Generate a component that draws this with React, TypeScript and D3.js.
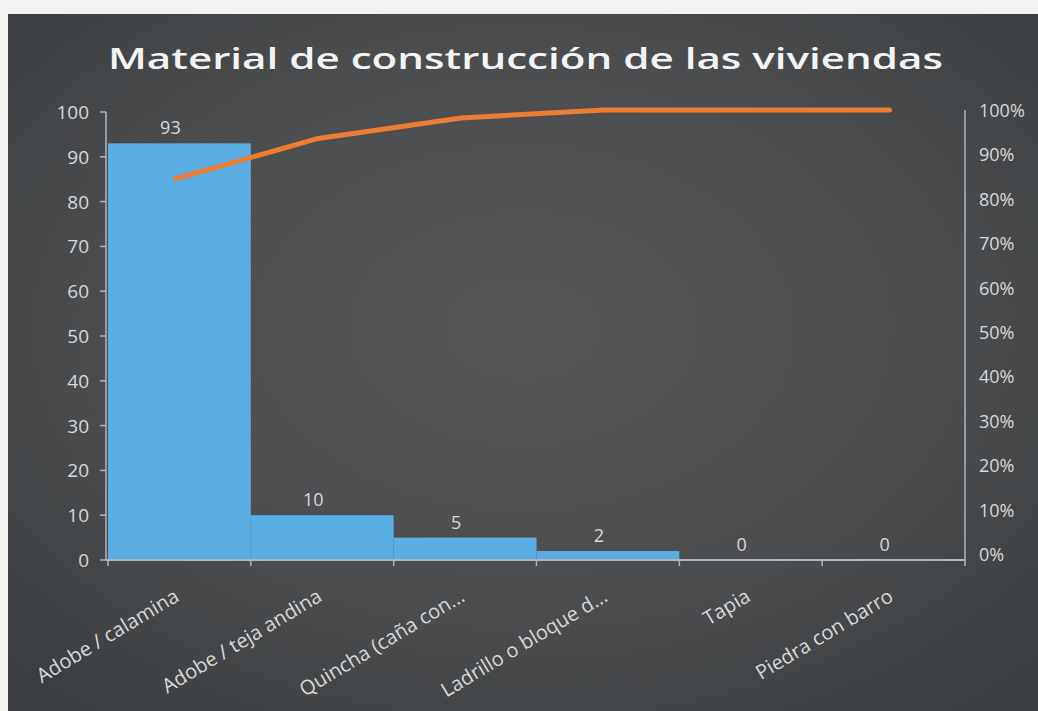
import React from "react";
import * as d3 from "d3";

const categories = [
  "Adobe / calamina",
  "Adobe / teja andina",
  "Quincha (caña con...",
  "Ladrillo o bloque d...",
  "Tapia",
  "Piedra con barro",
];
const counts = [93, 10, 5, 2, 0, 0];
const cumulativePct = [84.5, 93.6, 98.2, 100, 100, 100];
const leftTicks = [0, 10, 20, 30, 40, 50, 60, 70, 80, 90, 100];
const rightTicks = [0, 10, 20, 30, 40, 50, 60, 70, 80, 90, 100];
const title = "Material de construcción de las viviendas";

const W = 1038;
const H = 711;

export default function App() {
  const x = d3.scaleBand<string>().domain(categories).range([108, 965]).padding(0);
  const yL = d3.scaleLinear().domain([0, 100]).range([560, 112]);
  const yR = d3.scaleLinear().domain([0, 100]).range([554, 110]);
  const bw = x.bandwidth();
  const cx = (c: string) => (x(c) as number) + bw / 2;

  const line = d3
    .line<number>()
    .x((_, i) => cx(categories[i]) - 4)
    .y((d) => yR(d));

  const font = "'Open Sans', 'Noto Sans', sans-serif";
  const txt = "#d9d9d9";
  const axisCol = "#aeb6bd";

  return (
    <svg
      width={W}
      height={H}
      style={{ position: "absolute", left: 0, top: 0, display: "block" }}
      fontFamily={font}
    >
      <defs>
        <radialGradient id="bg" cx="50%" cy="45%" r="70%">
          <stop offset="0%" stopColor="#555658" />
          <stop offset="60%" stopColor="#4a4c4e" />
          <stop offset="100%" stopColor="#3b3e40" />
        </radialGradient>
      </defs>
      <rect x={0} y={0} width={W} height={H} fill="#f2f2f0" />
      <rect x={8} y={14} width={W - 8} height={H - 14} fill="url(#bg)" />

      <text
        x={108}
        y={69}
        fontSize={29}
        fontWeight={600}
        fill="#f4f4f4"
        textLength={835}
        lengthAdjust="spacingAndGlyphs"
      >
        {title}
      </text>

      {/* bars */}
      {categories.map((c, i) => (
        <rect
          key={c}
          x={x(c)}
          y={yL(counts[i])}
          width={bw}
          height={yL(0) - yL(counts[i])}
          fill="#5aaee3"
        />
      ))}

      {/* data labels */}
      {categories.map((c, i) => (
        <text
          key={"l" + c}
          x={cx(c) - 9}
          y={yL(counts[i]) - 9}
          fontSize={18}
          fill={txt}
          textAnchor="middle"
        >
          {counts[i]}
        </text>
      ))}

      {/* left axis */}
      <line x1={106} x2={106} y1={yL(100)} y2={yL(0)} stroke={axisCol} strokeWidth={1.5} />
      {leftTicks.map((t) => (
        <g key={"lt" + t}>
          <line x1={100} x2={106} y1={yL(t)} y2={yL(t)} stroke={axisCol} strokeWidth={1.5} />
          <text x={89} y={yL(t) + 7} fontSize={19} fill={txt} textAnchor="end">
            {t}
          </text>
        </g>
      ))}

      {/* bottom axis */}
      <line x1={106} x2={965} y1={yL(0)} y2={yL(0)} stroke={axisCol} strokeWidth={2} />
      {categories.map((c) => (
        <line
          key={"bt" + c}
          x1={x(c)}
          x2={x(c)}
          y1={yL(0)}
          y2={yL(0) + 6}
          stroke={axisCol}
          strokeWidth={1.5}
        />
      ))}
      <line x1={965} x2={965} y1={yL(0)} y2={yL(0) + 6} stroke={axisCol} strokeWidth={1.5} />

      {/* right axis */}
      <line x1={965} x2={965} y1={yR(100)} y2={yL(0)} stroke={axisCol} strokeWidth={1.5} />
      {rightTicks.map((t) => (
        <text key={"rt" + t} x={979} y={yR(t) + 7} fontSize={18} fill={txt} textAnchor="start">
          {t + "%"}
        </text>
      ))}

      {/* category labels */}
      {categories.map((c) => {
        const ax = cx(c) + 1;
        const ay = 600;
        return (
          <text
            key={"cl" + c}
            x={ax}
            y={ay}
            fontSize={20}
            fill={txt}
            textAnchor="end"
            transform={`rotate(-31, ${ax}, ${ay})`}
          >
            {c}
          </text>
        );
      })}

      {/* cumulative line */}
      <path
        d={line(cumulativePct) || ""}
        fill="none"
        stroke="#ed7d31"
        strokeWidth={5}
        strokeLinecap="round"
        strokeLinejoin="round"
      />
    </svg>
  );
}
